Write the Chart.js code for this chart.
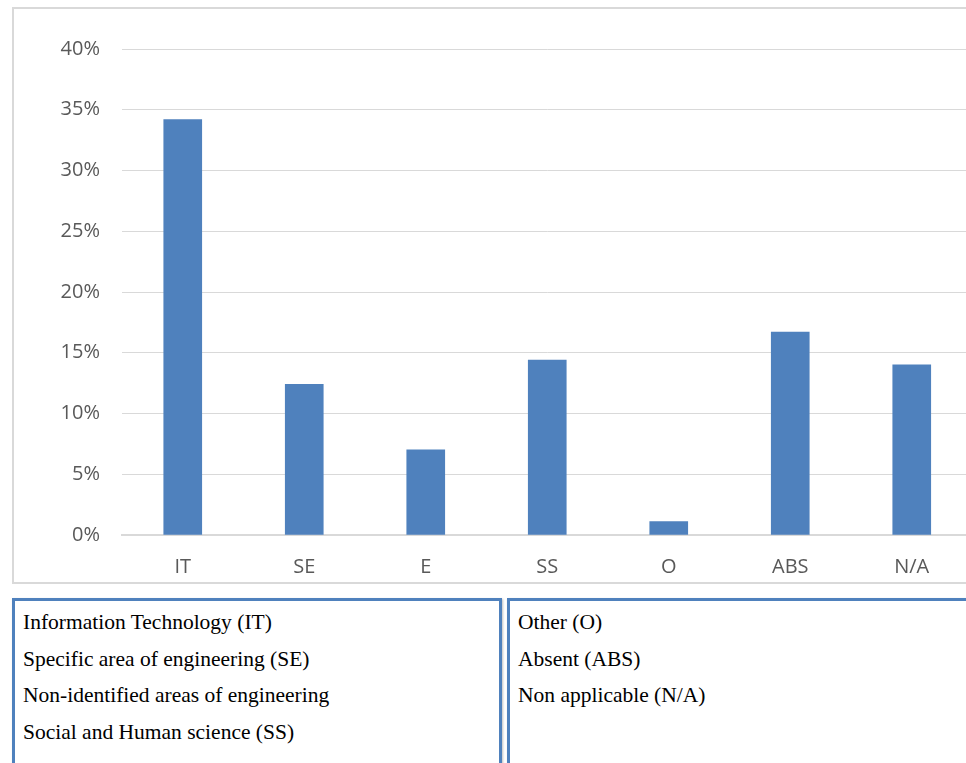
<!DOCTYPE html>
<html>
<head>
<meta charset="utf-8">
<script src="https://cdn.jsdelivr.net/npm/chart.js@4.4.1/dist/chart.umd.min.js"></script>
<style>
html, body { margin: 0; padding: 0; background: #fff; overflow: hidden; width: 966px; height: 763px; }
#frame { position: absolute; left: 12px; top: 7px; width: 1000px; height: 577px; border: 2px solid #d9d9d9; box-sizing: border-box; }
#wrap { position: absolute; left: 12px; top: 9px; width: 975px; height: 572px; }
.box { position: absolute; top: 598px; height: 200px; border: 3px solid #4f81bd; box-sizing: border-box;
  box-shadow: 1px 1px 2px rgba(0,0,0,.25); font-family: "Liberation Serif", "Times New Roman", serif;
  font-size: 21.5px; line-height: 36.7px; color: #000; padding: 3px 0 0 8px; }
#boxL { left: 12px; width: 490px; }
#boxR { left: 507px; width: 500px; }
</style>
</head>
<body>
<div id="frame"></div>
<div id="wrap"><canvas id="bar-chart" width="975" height="572"></canvas></div>
<div class="box" id="boxL"></div>
<div class="box" id="boxR"></div>
<script>
var categories = ['IT', 'SE', 'E', 'SS', 'O', 'ABS', 'N/A'];
var shares = [34.2, 12.4, 7.0, 14.4, 1.1, 16.7, 14.0];
var yTicks = [0, 5, 10, 15, 20, 25, 30, 35, 40];
var legendLeft = ['Information Technology (IT)', 'Specific area of engineering (SE)', 'Non-identified areas of engineering', 'Social and Human science (SS)'];
var legendRight = ['Other (O)', 'Absent (ABS)', 'Non applicable (N/A)'];

var fillBox = function(id, lines) {
	var el = document.getElementById(id);
	lines.forEach(function(t) {
		var d = document.createElement('div');
		d.textContent = t;
		el.appendChild(d);
	});
};
fillBox('boxL', legendLeft);
fillBox('boxR', legendRight);

var ctx = document.getElementById('bar-chart').getContext('2d');
var barChart = new Chart(ctx, {
	type: 'bar',
	data: {
		labels: categories,
		datasets: [{
			data: shares,
			backgroundColor: '#4f81bd',
			borderWidth: 0,
			barThickness: 38
		}]
	},
	options: {
		responsive: false,
		animation: false,
		layout: { padding: { top: 40, right: 14.5, left: 0, bottom: 0 } },
		plugins: { legend: { display: false }, tooltip: { enabled: false } },
		scales: {
			x: {
				grid: { display: false, drawTicks: false },
				border: { display: true, color: '#d9d9d9', width: 2 },
				ticks: { color: '#595959', padding: 20, font: { family: 'Open Sans', size: 20 } },
				afterFit: function(s) { s.height = 46; }
			},
			y: {
				min: 0,
				max: 40,
				afterBuildTicks: function(s) { s.ticks = yTicks.map(function(v) { return { value: v }; }); },
				grid: { color: '#d9d9d9', lineWidth: 1, drawTicks: false },
				border: { display: false },
				ticks: {
					color: '#595959', padding: 22, font: { family: 'Open Sans', size: 20 },
					callback: function(v) { return v + '%'; }
				},
				afterFit: function(s) { s.width = 110; }
			}
		}
	}
});
</script>
</body>
</html>
